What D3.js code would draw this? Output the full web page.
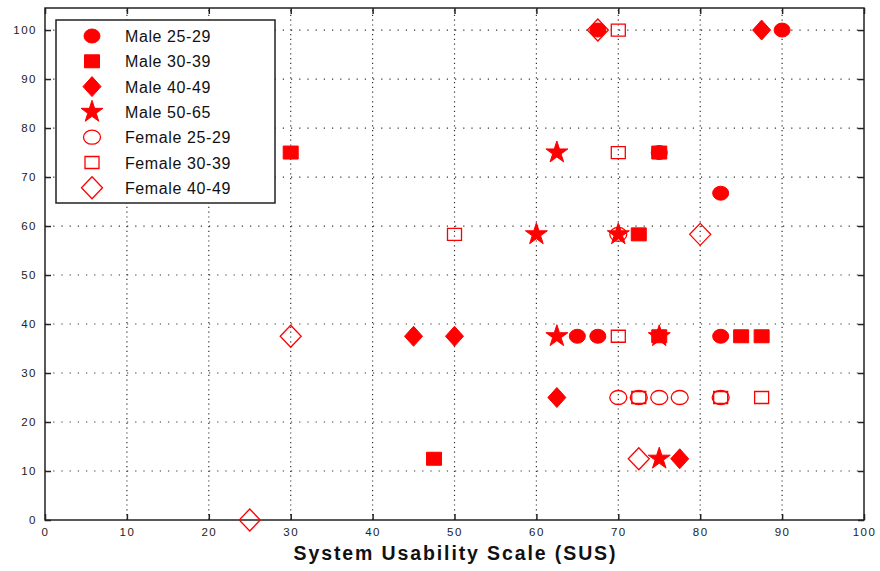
<!DOCTYPE html>
<html>
<head>
<meta charset="utf-8">
<script src="https://cdn.jsdelivr.net/npm/d3@7"></script>
<style>
  body { margin: 0; background: #fff; }
  svg { display: block; }
</style>
</head>
<body>
<svg id="chart"></svg>
<script>
// basic parameters
const width = 880
const height = 571
const margin = {top: 8, right: 16, bottom: 51, left: 45}

// data: [SUS score, y value] per group
const male2529   = [[67.5, 100], [90, 100], [82.5, 66.7], [75, 75], [65, 37.5], [67.5, 37.5], [82.5, 37.5]]
const male3039   = [[30, 75], [75, 75], [72.5, 58.3], [75, 37.5], [85, 37.5], [87.5, 37.5], [47.5, 12.5]]
const male4049   = [[87.5, 100], [45, 37.5], [50, 37.5], [62.5, 25], [77.5, 12.5]]
const male5065   = [[62.5, 75], [60, 58.3], [70, 58.3], [62.5, 37.5], [75, 37.5], [75, 12.5]]
const female2529 = [[70, 58.3], [70, 25], [72.5, 25], [75, 25], [77.5, 25], [82.5, 25]]
const female3039 = [[70, 100], [70, 75], [50, 58.3], [70, 37.5], [72.5, 25], [82.5, 25], [87.5, 25]]
const female4049 = [[67.5, 100], [80, 58.3], [30, 37.5], [72.5, 12.5], [25, 0]]

const seriesNames = ["Male 25-29", "Male 30-39", "Male 40-49", "Male 50-65",
                     "Female 25-29", "Female 30-39", "Female 40-49"]
const seriesData = [male2529, male3039, male4049, male5065, female2529, female3039, female4049]
const seriesShape = ["circle", "square", "diamond", "star", "circle", "square", "diamond"]
const seriesFilled = [true, true, true, true, false, false, false]

const xTicks = [0, 10, 20, 30, 40, 50, 60, 70, 80, 90, 100]
const yTicks = [0, 10, 20, 30, 40, 50, 60, 70, 80, 90, 100]
const xLabel = "System Usability Scale (SUS)"

const red = "#ff0000"
const font = "'Liberation Sans', Arial, Helvetica, sans-serif"

var svg = d3.select("#chart")
  .attr("width", width)
  .attr("height", height)

const x = d3.scaleLinear().domain([0, 100]).range([margin.left, width - margin.right])
const y = d3.scaleLinear().domain([0, 104.5]).range([height - margin.bottom, margin.top])

const x0 = x.range()[0], x1 = x.range()[1]
const y0 = y.range()[0], y1 = y.range()[1]

// dotted grid
const grid = svg.append("g").attr("class", "grid")
grid.selectAll(".vgrid").data(xTicks.slice(1, -1)).enter().append("line")
  .attr("x1", d => x(d)).attr("x2", d => x(d))
  .attr("y1", y0).attr("y2", y1)
  .attr("stroke", "#333").attr("stroke-width", 1.2)
  .attr("stroke-dasharray", "1.2,3.6")
grid.selectAll(".hgrid").data(yTicks.slice(1)).enter().append("line")
  .attr("y1", d => y(d)).attr("y2", d => y(d))
  .attr("x1", x0).attr("x2", x1)
  .attr("stroke", "#333").attr("stroke-width", 1.2)
  .attr("stroke-dasharray", "1.2,7")

// axes with inward ticks on all sides
svg.append("g")
  .attr("transform", "translate(0," + y0 + ")")
  .call(d3.axisBottom(x).tickValues(xTicks).tickSize(-6).tickPadding(8))
  .call(g => g.select(".domain").remove())
  .call(g => g.selectAll("text")
    .attr("font-family", font).attr("letter-spacing", 1.5)
    .attr("font-size", 11.5).attr("fill", "#222"))
svg.append("g")
  .attr("transform", "translate(0," + y1 + ")")
  .call(d3.axisTop(x).tickValues(xTicks).tickSize(-6).tickFormat(""))
  .call(g => g.select(".domain").remove())
svg.append("g")
  .attr("transform", "translate(" + x0 + ",0)")
  .call(d3.axisLeft(y).tickValues(yTicks).tickSize(-6).tickPadding(8))
  .call(g => g.select(".domain").remove())
  .call(g => g.selectAll("text")
    .attr("font-family", font).attr("letter-spacing", 1.5)
    .attr("font-size", 11.5).attr("fill", "#222"))
svg.append("g")
  .attr("transform", "translate(" + x1 + ",0)")
  .call(d3.axisRight(y).tickValues(yTicks).tickSize(-6).tickFormat(""))
  .call(g => g.select(".domain").remove())
svg.selectAll(".tick line").attr("stroke", "#222").attr("stroke-width", 1.5)

// plot box
svg.append("rect")
  .attr("x", x0).attr("y", y1)
  .attr("width", x1 - x0).attr("height", y0 - y1)
  .attr("fill", "none").attr("stroke", "#222").attr("stroke-width", 1.5)

// marker shapes
function markerPath(shape, filled) {
  if (shape === "circle") {
    const rx = filled ? 8 : 8.5, ry = 7
    return "M" + (-rx) + ",0A" + rx + "," + ry + " 0 1,0 " + rx + ",0A" + rx + "," + ry + " 0 1,0 " + (-rx) + ",0Z"
  }
  if (shape === "square") {
    const w = filled ? 7.5 : 7, h = filled ? 6.5 : 6
    return "M" + (-w) + "," + (-h) + "H" + w + "V" + h + "H" + (-w) + "Z"
  }
  if (shape === "diamond") {
    const w = filled ? 9 : 10.5, h = filled ? 10 : 11
    return "M0," + (-h) + "L" + w + ",0L0," + h + "L" + (-w) + ",0Z"
  }
  return d3.symbol().type(d3.symbolStar).size(150)()
}

function drawMarker(g, shape, filled) {
  g.append("path")
    .attr("d", markerPath(shape, filled))
    .attr("fill", filled ? red : "none")
    .attr("stroke", red)
    .attr("stroke-width", filled ? 1 : 1.3)
}

// points
seriesData.forEach((pts, i) => {
  svg.append("g").selectAll("g").data(pts).enter().append("g")
    .attr("transform", d => "translate(" + x(d[0]) + "," + y(d[1]) + ")")
    .each(function() { drawMarker(d3.select(this), seriesShape[i], seriesFilled[i]) })
})

// legend
const legend = svg.append("g").attr("transform", "translate(56,20)")
legend.append("rect")
  .attr("width", 219).attr("height", 183)
  .attr("fill", "#fff").attr("stroke", "#222").attr("stroke-width", 1.5)
seriesNames.forEach((name, i) => {
  const row = legend.append("g").attr("transform", "translate(36," + (16 + i * 25.3) + ")")
  drawMarker(row, seriesShape[i], seriesFilled[i])
  row.append("text")
    .attr("x", 33).attr("y", 6)
    .attr("font-family", font).attr("letter-spacing", 0.6)
    .attr("font-size", 16).attr("fill", "#111")
    .text(name)
})

// x axis label
svg.append("text")
  .attr("x", x(50)).attr("y", 560)
  .attr("text-anchor", "middle")
  .attr("font-family", font)
  .attr("font-weight", "bold")
  .attr("font-size", 19.5)
  .attr("textLength", 322).attr("lengthAdjust", "spacing")
  .attr("fill", "#111")
  .text(xLabel)
</script>
</body>
</html>
